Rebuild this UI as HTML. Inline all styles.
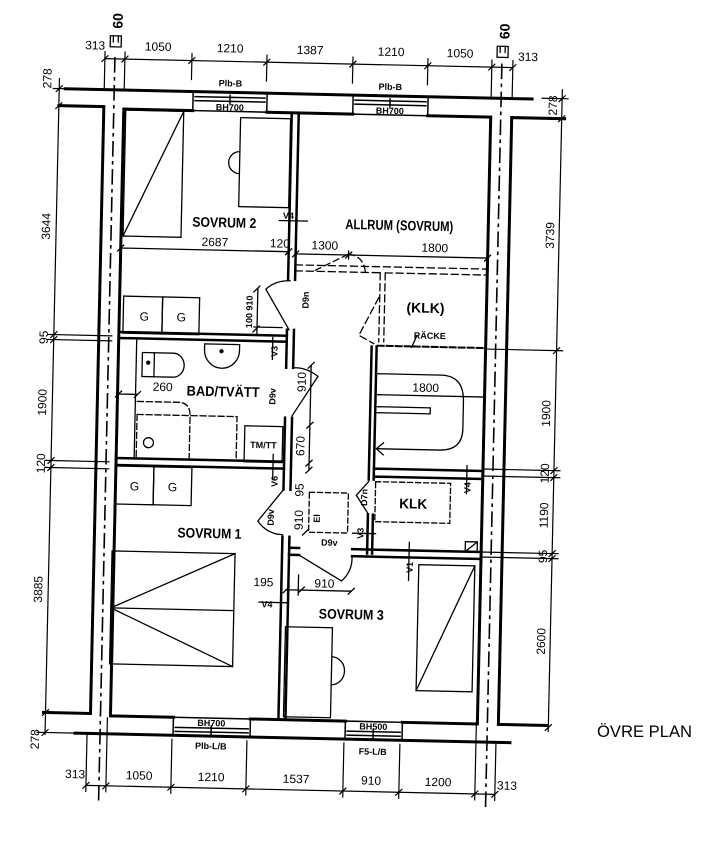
<!DOCTYPE html>
<html><head><meta charset="utf-8"><style>
html,body{margin:0;padding:0;background:#fff;}
svg{display:block;}
text{font-family:"Liberation Sans Narrow","Liberation Sans",sans-serif;fill:#000;}
.d{font-size:12px;}
.r{font-size:14px;font-weight:bold;}
.s{font-size:9px;font-weight:bold;}
</style></head><body>
<svg width="727" height="844" viewBox="0 0 727 844" xmlns="http://www.w3.org/2000/svg">
<rect width="727" height="844" fill="#fff"/>
<g transform="rotate(1.26 300 420)" stroke="#000" fill="none" stroke-linecap="square">
<path d="M107,62 V805 M494,60 V805" stroke-width="1.6" stroke-dasharray="14 6 2 6"/>
<g stroke-width="3">
<path d="M52,111 H97 V718 H50"/>
<path d="M117,113 V720 H180 M257,720 H352 M409,720 H484 V113 H421 M346,113 H260 M186,113 H117"/>
<path d="M58,94 H525"/>
<path d="M558,113 H505 V720 H553"/>
<path d="M82,738 H517"/>
</g>
<g stroke-width="1.5">
<rect x="186" y="94" width="74" height="19"/><path d="M188,99 H258 M188,103 H258 M223,97 V105"/>
<rect x="346" y="94" width="75" height="19"/><path d="M348,99 H419 M348,103 H419 M383,97 V105"/>
<rect x="180" y="720" width="77" height="18"/><path d="M182,730 H255 M182,734 H255 M218,728 V736"/>
<rect x="352" y="720" width="57" height="18"/><path d="M354,730 H407 M354,734 H407 M380,728 V736"/>
</g>
<g stroke-width="1.2">
<path d="M97,63 H505"/>
<path d="M97,56 V94 M117,56 V94 M184,56 V82 M259,56 V82 M345,56 V82 M420,56 V82 M484,56 V94 M505,56 V94"/>
<path d="M94,66 l6,-6 M114,66 l6,-6 M181,66 l6,-6 M256,66 l6,-6 M342,66 l6,-6 M417,66 l6,-6 M481,66 l6,-6 M502,66 l6,-6"/>
<path d="M94,790 H503"/>
<path d="M94,738 V796 M114,722 V796 M179,742 V796 M254,742 V796 M351,742 V796 M407,742 V796 M483,722 V796 M503,738 V796"/>
<path d="M91,793 l6,-6 M111,793 l6,-6 M176,793 l6,-6 M251,793 l6,-6 M348,793 l6,-6 M404,793 l6,-6 M480,793 l6,-6 M500,793 l6,-6"/>
<path d="M52,84 V740"/>
<path d="M46,94 H58 M46,340 H110 M46,345 H110 M46,466 H110 M46,473 H110 M44,738 H82"/>
<path d="M49,97 l6,-6 M49,114 l6,-6 M49,343 l6,-6 M49,348 l6,-6 M49,469 l6,-6 M49,476 l6,-6 M49,721 l6,-6 M49,741 l6,-6"/>
<path d="M555,84 V726"/>
<path d="M535,93 H561 M484,345 H561 M484,465 H561 M484,472 H561 M484,548 H561 M484,553 H561"/>
<path d="M552,96 l6,-6 M552,116 l6,-6 M552,348 l6,-6 M552,468 l6,-6 M552,475 l6,-6 M552,551 l6,-6 M552,556 l6,-6 M552,725 l6,-6"/>
</g>
<g stroke-width="2.5">
<path d="M285,113 V280 M285,330 V368 M285,418 V490 M285,537 V720"/>
<path d="M292,113 V280 M292,330 V368 M292,418 V490 M292,537 V720"/>
<path d="M117,336 H285 M117,342 H285"/>
<path d="M117,462 H285 M117,469 H285"/>
<path d="M370,345 V478 M370,513 V552 M375,345 V478 M375,513 V552"/>
<path d="M375,467 H484 M375,475 H484"/>
<path d="M292,548 H302 M355,548 H484 M292,555 H302 M355,555 H484"/>
</g>
<g stroke-width="1.3">
<path d="M117,252 H285 M292,254 H484 M117,248 l0,8 M285,248 v8 M292,250 v8 M345,250 v8 M484,250 v8"/>
<path d="M114,255 l6,-6 M282,255 l6,-6 M289,257 l6,-6 M342,257 l6,-6 M481,257 l6,-6"/>
<path d="M292,265 H484 M292,271 H377 M382,271 H484 M377,271 V340 M382,271 V340" stroke-dasharray="7 4"/>
<path d="M376,296 L357,334 L372,342" stroke-dasharray="7 4"/>
<path d="M312,270 L345,253 M345,253 Q360,255 362,270" stroke-dasharray="6 4"/>
<path d="M376,344 H484" stroke-width="2" stroke-dasharray="6 3"/>
<path d="M410,345 L415,333"/>
<rect x="119" y="114" width="58" height="126"/><path d="M119,240 L177,114"/>
<rect x="234" y="119" width="50" height="89"/><path d="M234,153 A11,11 0 0 0 234,175"/>
<path d="M275,221 H303"/>
<rect x="121" y="300" width="39" height="37"/><rect x="160" y="300" width="37" height="37"/>
<rect x="117" y="470" width="38" height="38"/><rect x="155" y="470" width="38" height="38"/>
<path d="M287,330 L263,290 Q272,281 287,281"/>
<path d="M255,290 V335 M251,293 l6,-6 M251,333 l6,-6 M252,328 H280"/>
<path d="M135,342 V462"/>
<rect x="141" y="356" width="12" height="24"/><path d="M153,356 H172 A11,12 0 0 1 172,380 H153"/>
<circle cx="147" cy="366" r="1.5" fill="#000"/>
<path d="M203,346 H238 V352 A17.5,18 0 0 1 203,352 Z"/><circle cx="220" cy="353" r="1.5" fill="#000"/>
<path d="M118,398 H137 M115,401 l6,-6 M134,401 l6,-6"/>
<path d="M137,405 H178 Q190,405 190,418 V462 M137,418 H237 V462 M137,418 V462" stroke-dasharray="6 3"/>
<circle cx="149" cy="446" r="5"/>
<rect x="245" y="427" width="38" height="36"/>
<path d="M271,338 V360 M274,455 V480"/>
<path d="M292,416 L317,376 Q305,367 292,368"/>
<path d="M310,365 V470 M307,368 l6,-6 M307,428 l6,-6 M307,466 l6,-6 M307,473 l6,-6"/>
<path d="M285,490 L260,522 Q270,535 285,535"/>
<path d="M375,393 H484"/>
<path d="M375,372 H440 Q463,372 463,398 V425 Q463,447 440,447 H378"/>
<path d="M384,441 L377,447 L384,453"/>
<path d="M375,405 H430 V411 H375"/>
<rect x="377" y="480" width="75" height="40" stroke-dasharray="5 3"/>
<path d="M370,480 L358,494 L370,512"/>
<path d="M468,462 V490"/>
<rect x="311" y="492" width="39" height="40" stroke-dasharray="5 3"/>
<path d="M355,532 H378 M305,535 l6,-6"/>
<rect x="468" y="538" width="12" height="10"/><path d="M468,548 L480,538"/>
<path d="M302,555 L345,580 Q356,570 355,555"/>
<path d="M290,590 H355 M287,593 l6,-6 M302,593 l6,-6 M352,593 l6,-6 M302,575 V595"/>
<path d="M412,540 V578"/>
<path d="M263,603 H292"/>
<rect x="290" y="627" width="47" height="90"/><path d="M337,656 A13,14 0 0 1 337,684"/>
<rect x="422" y="562" width="56" height="126"/><path d="M422,688 L478,562"/>
<rect x="115" y="555" width="123" height="113"/><path d="M115,612 L238,555 M115,612 L238,668 M115,612 H238"/>
<rect x="102" y="40" width="11" height="11"/><path d="M105,40 V46 M110,40 V46"/>
<rect x="489" y="42" width="11" height="11"/><path d="M492,42 V48 M497,42 V48"/>
</g>
<g stroke="none">
<text class="d" x="87" y="54" text-anchor="middle">313</text>
<text class="d" x="150" y="54" text-anchor="middle">1050</text>
<text class="d" x="222" y="54" text-anchor="middle">1210</text>
<text class="d" x="302" y="54" text-anchor="middle">1387</text>
<text class="d" x="383" y="54" text-anchor="middle">1210</text>
<text class="d" x="452" y="54" text-anchor="middle">1050</text>
<text class="d" x="520" y="56" text-anchor="middle">313</text>
<text class="r" transform="translate(114,25) rotate(-90)" text-anchor="middle">60</text>
<text class="r" transform="translate(501,27) rotate(-90)" text-anchor="middle">60</text>
<text class="d" x="83" y="783" text-anchor="middle">313</text>
<text class="d" x="147" y="783" text-anchor="middle">1050</text>
<text class="d" x="219" y="783" text-anchor="middle">1210</text>
<text class="d" x="304" y="783" text-anchor="middle">1537</text>
<text class="d" x="379" y="783" text-anchor="middle">910</text>
<text class="d" x="446" y="783" text-anchor="middle">1200</text>
<text class="d" x="515" y="785" text-anchor="middle">313</text>
<g class="d" text-anchor="middle">
<text transform="translate(44,84) rotate(-90)">278</text>
<text transform="translate(46,232) rotate(-90)">3644</text>
<text transform="translate(46,343) rotate(-90)">95</text>
<text transform="translate(46,408) rotate(-90)">1900</text>
<text transform="translate(46,469) rotate(-90)">120</text>
<text transform="translate(46,595) rotate(-90)">3885</text>
<text transform="translate(46,745) rotate(-90)">278</text>
<text transform="translate(550,100) rotate(-90)">278</text>
<text transform="translate(550,230) rotate(-90)">3739</text>
<text transform="translate(550,408) rotate(-90)">1900</text>
<text transform="translate(550,468) rotate(-90)">120</text>
<text transform="translate(550,510) rotate(-90)">1190</text>
<text transform="translate(550,551) rotate(-90)">95</text>
<text transform="translate(550,636) rotate(-90)">2600</text>
</g>
<text class="s" x="223" y="88" text-anchor="middle">Plb-B</text>
<text class="s" x="223" y="112" text-anchor="middle">BH700</text>
<text class="s" x="383" y="88" text-anchor="middle">Plb-B</text>
<text class="s" x="383" y="112" text-anchor="middle">BH700</text>
<text class="s" x="218" y="728" text-anchor="middle">BH700</text>
<text class="s" x="218" y="751" text-anchor="middle">Plb-L/B</text>
<text class="s" x="380" y="728" text-anchor="middle">BH500</text>
<text class="s" x="380" y="753" text-anchor="middle">F5-L/B</text>
<text class="r" x="188" y="229" textLength="64" lengthAdjust="spacingAndGlyphs">SOVRUM 2</text>
<text class="d" x="211" y="248" text-anchor="middle">2687</text>
<text class="d" x="276" y="248" text-anchor="middle">120</text>
<text class="s" x="284" y="219" text-anchor="middle">V4</text>
<text class="r" x="341" y="228" textLength="108" lengthAdjust="spacingAndGlyphs">ALLRUM (SOVRUM)</text>
<text class="d" x="321" y="249" text-anchor="middle">1300</text>
<text class="d" x="431" y="249" text-anchor="middle">1800</text>
<text class="r" x="404" y="310" textLength="38" lengthAdjust="spacingAndGlyphs">(KLK)</text>
<text class="s" x="428" y="336" text-anchor="middle">RÄCKE</text>
<text class="d" x="425" y="389" text-anchor="middle">1800</text>
<text class="r" x="401" y="506" textLength="28" lengthAdjust="spacingAndGlyphs">KLK</text>
<text class="r" x="186" y="398" textLength="73" lengthAdjust="spacingAndGlyphs">BAD/TVÄTT</text>
<text class="d" x="162" y="394" text-anchor="middle">260</text>
<text class="s" x="264" y="449" text-anchor="middle">TM/TT</text>
<text class="d" x="142" y="324" text-anchor="middle">G</text>
<text class="d" x="179" y="324" text-anchor="middle">G</text>
<text class="d" x="136" y="494" text-anchor="middle">G</text>
<text class="d" x="174" y="494" text-anchor="middle">G</text>
<text class="r" x="180" y="540" textLength="64" lengthAdjust="spacingAndGlyphs">SOVRUM 1</text>
<text class="r" x="323" y="618" textLength="65" lengthAdjust="spacingAndGlyphs">SOVRUM 3</text>
<text class="d" x="267" y="587" text-anchor="middle">195</text>
<text class="d" x="328" y="587" text-anchor="middle">910</text>
<text class="s" x="271" y="608" text-anchor="middle">V4</text>
<text class="s" x="332" y="545" text-anchor="middle">D9v</text>
<g class="s" text-anchor="middle">
<text transform="translate(306,300) rotate(-90)">D9n</text>
<text transform="translate(250,313) rotate(-90)">100 910</text>
<text transform="translate(276,352) rotate(-90)">V3</text>
<text transform="translate(275,397) rotate(-90)">D9v</text>
<text transform="translate(279,482) rotate(-90)">V6</text>
<text transform="translate(276,518) rotate(-90)">D9v</text>
<text transform="translate(322,518) rotate(-90)">El</text>
<text transform="translate(369,496) rotate(-90)">D7n</text>
<text transform="translate(472,484) rotate(-90)">V4</text>
<text transform="translate(366,532) rotate(-90)">V3</text>
<text transform="translate(416,565) rotate(-90)">V1</text>
</g>
<g class="d" text-anchor="middle">
<text transform="translate(305,382) rotate(-90)">910</text>
<text transform="translate(305,446) rotate(-90)">670</text>
<text transform="translate(305,490) rotate(-90)">95</text>
<text transform="translate(305,520) rotate(-90)">910</text>
</g>
</g>
</g>
<text x="597" y="737" style="font-size:17px" textLength="95" lengthAdjust="spacingAndGlyphs">ÖVRE PLAN</text>
</svg>
</body></html>
